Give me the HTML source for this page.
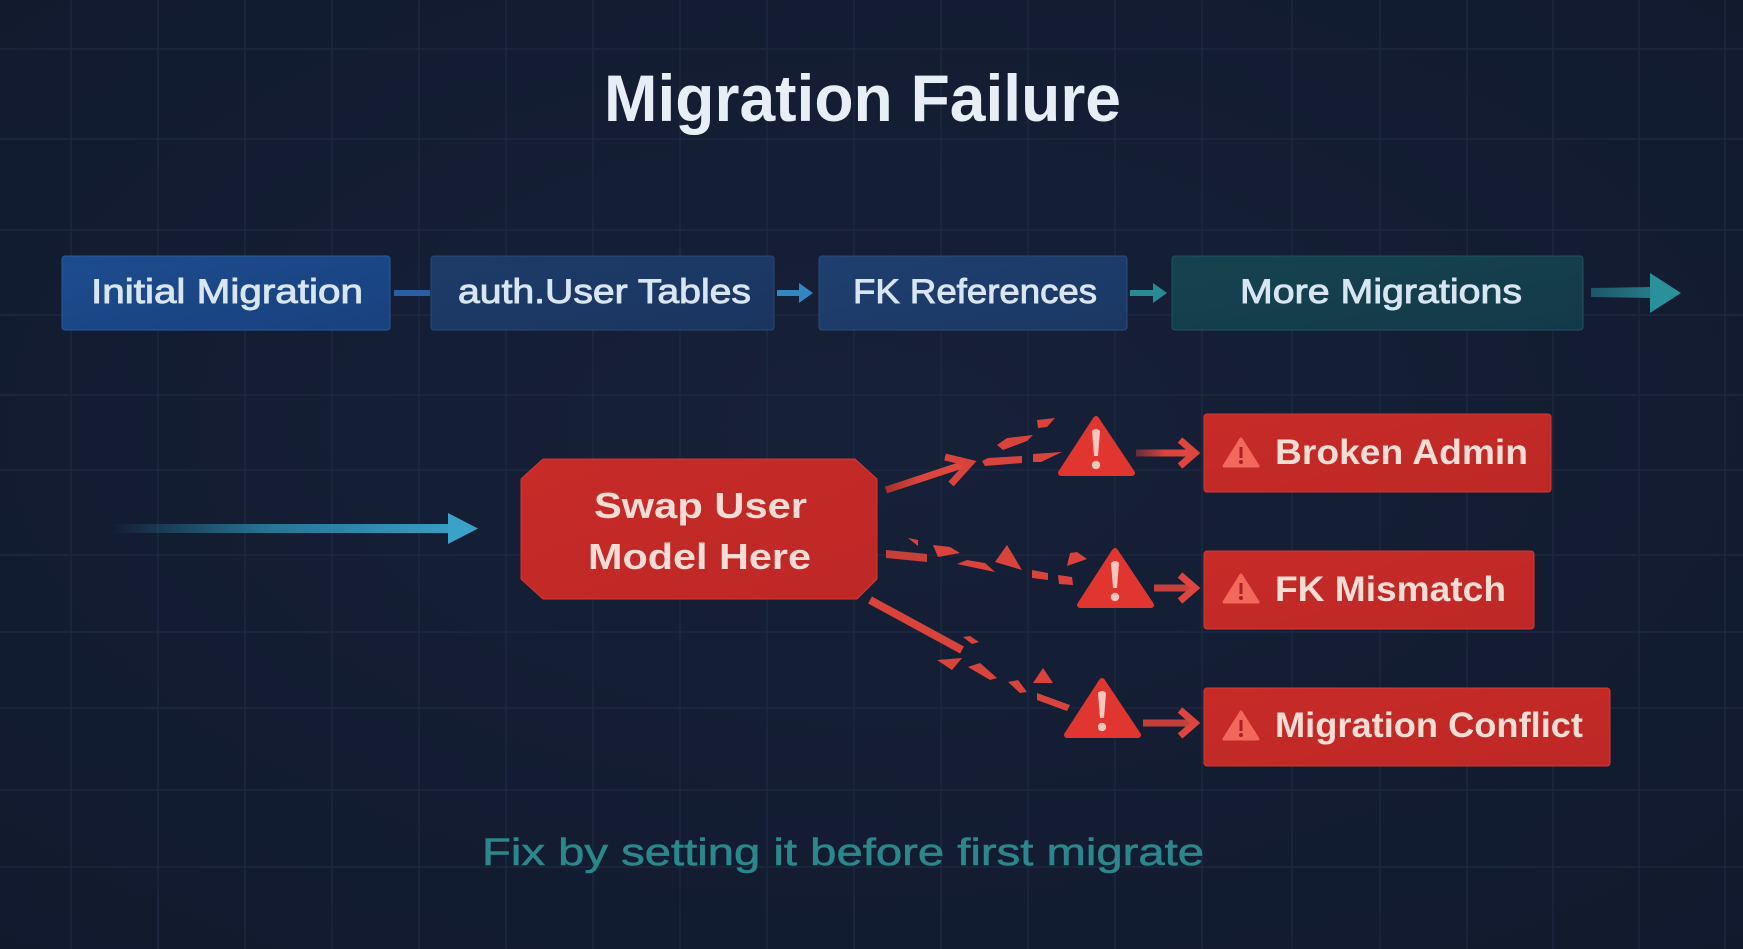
<!DOCTYPE html>
<html>
<head>
<meta charset="utf-8">
<style>
  html,body{margin:0;padding:0;background:#131c31;}
  body{width:1743px;height:949px;overflow:hidden;}
  svg{display:block;}
  text{font-family:"Liberation Sans","DejaVu Sans",sans-serif;}
</style>
</head>
<body>
<svg width="1743" height="949" viewBox="0 0 1743 949" xmlns="http://www.w3.org/2000/svg">
  <defs>
    <radialGradient id="bg" cx="50%" cy="45%" r="75%">
      <stop offset="0" stop-color="#162038"/>
      <stop offset="1" stop-color="#111a2d"/>
    </radialGradient>
    <linearGradient id="b1" x1="0" y1="0" x2="1" y2="1">
      <stop offset="0" stop-color="#1d4c8e"/>
      <stop offset="1" stop-color="#19417f"/>
    </linearGradient>
    <linearGradient id="b2" x1="0" y1="0" x2="1" y2="1">
      <stop offset="0" stop-color="#1e3b68"/>
      <stop offset="1" stop-color="#1a3560"/>
    </linearGradient>
    <linearGradient id="b3" x1="0" y1="0" x2="1" y2="1">
      <stop offset="0" stop-color="#1f3f70"/>
      <stop offset="1" stop-color="#1b3864"/>
    </linearGradient>
    <linearGradient id="b4" x1="0" y1="0" x2="1" y2="1">
      <stop offset="0" stop-color="#16434f"/>
      <stop offset="1" stop-color="#133a4a"/>
    </linearGradient>
    <linearGradient id="red" x1="0" y1="0" x2="1" y2="1">
      <stop offset="0" stop-color="#c72b28"/>
      <stop offset="1" stop-color="#bd2826"/>
    </linearGradient>
    <linearGradient id="leftArrow" x1="111" y1="0" x2="470" y2="0" gradientUnits="userSpaceOnUse">
      <stop offset="0" stop-color="#2f8fb0" stop-opacity="0"/>
      <stop offset="0.45" stop-color="#2b85a8" stop-opacity="0.85"/>
      <stop offset="1" stop-color="#3aa2c9"/>
    </linearGradient>
    <linearGradient id="bigArrow" x1="1591" y1="0" x2="1680" y2="0" gradientUnits="userSpaceOnUse">
      <stop offset="0" stop-color="#267c8c" stop-opacity="0.6"/>
      <stop offset="1" stop-color="#2a909c"/>
    </linearGradient>
    <linearGradient id="rfade1" x1="1134" y1="0" x2="1197" y2="0" gradientUnits="userSpaceOnUse">
      <stop offset="0" stop-color="#d9453d" stop-opacity="0.35"/>
      <stop offset="0.5" stop-color="#d9453d"/>
      <stop offset="1" stop-color="#de4a40"/>
    </linearGradient>
    <linearGradient id="rline" x1="0" y1="0" x2="1" y2="0">
      <stop offset="0" stop-color="#a8302c"/>
      <stop offset="0.4" stop-color="#d9453d"/>
      <stop offset="1" stop-color="#dd4a40"/>
    </linearGradient>
  </defs>

  <!-- background -->
  <rect width="1743" height="949" fill="url(#bg)"/>

  <!-- grid -->
  <g stroke="#1d2a43" stroke-width="1.5" opacity="0.9">
    <line x1="71" y1="0" x2="71" y2="949"/>
    <line x1="158" y1="0" x2="158" y2="949"/>
    <line x1="245" y1="0" x2="245" y2="949"/>
    <line x1="332" y1="0" x2="332" y2="949"/>
    <line x1="419" y1="0" x2="419" y2="949"/>
    <line x1="506" y1="0" x2="506" y2="949"/>
    <line x1="593" y1="0" x2="593" y2="949"/>
    <line x1="680" y1="0" x2="680" y2="949"/>
    <line x1="767" y1="0" x2="767" y2="949"/>
    <line x1="854" y1="0" x2="854" y2="949"/>
    <line x1="941" y1="0" x2="941" y2="949"/>
    <line x1="1028" y1="0" x2="1028" y2="949"/>
    <line x1="1115" y1="0" x2="1115" y2="949"/>
    <line x1="1202" y1="0" x2="1202" y2="949"/>
    <line x1="1292" y1="0" x2="1292" y2="949"/>
    <line x1="1380" y1="0" x2="1380" y2="949"/>
    <line x1="1467" y1="0" x2="1467" y2="949"/>
    <line x1="1553" y1="0" x2="1553" y2="949"/>
    <line x1="1639" y1="0" x2="1639" y2="949"/>
    <line x1="1725" y1="0" x2="1725" y2="949"/>
    <line x1="0" y1="49" x2="1743" y2="49"/>
    <line x1="0" y1="139" x2="1743" y2="139"/>
    <line x1="0" y1="230" x2="1743" y2="230"/>
    <line x1="0" y1="315" x2="1743" y2="315"/>
    <line x1="0" y1="395" x2="1743" y2="395"/>
    <line x1="0" y1="470" x2="1743" y2="470"/>
    <line x1="0" y1="555" x2="1743" y2="555"/>
    <line x1="0" y1="632" x2="1743" y2="632"/>
    <line x1="0" y1="708" x2="1743" y2="708"/>
    <line x1="0" y1="790" x2="1743" y2="790"/>
    <line x1="0" y1="867" x2="1743" y2="867"/>
  </g>

  <!-- title -->
  <text x="604" y="121" font-size="66" font-weight="bold" fill="#e8eef6" textLength="517" lengthAdjust="spacingAndGlyphs">Migration Failure</text>

  <!-- top chain boxes -->
  <rect x="62" y="256" width="328" height="74" rx="3" fill="url(#b1)" stroke="#2a5a9c" stroke-width="1"/>
  <rect x="431" y="256" width="343" height="74" rx="3" fill="url(#b2)" stroke="#284a78" stroke-width="1"/>
  <rect x="819" y="256" width="308" height="74" rx="3" fill="url(#b3)" stroke="#2a4c7e" stroke-width="1"/>
  <rect x="1172" y="256" width="411" height="74" rx="3" fill="url(#b4)" stroke="#1f5260" stroke-width="1"/>

  <g font-size="34" fill="#d8e5f3" stroke="#d8e5f3" stroke-width="0.9">
    <text x="91" y="303" textLength="272" lengthAdjust="spacingAndGlyphs">Initial Migration</text>
    <text x="458" y="303" textLength="293" lengthAdjust="spacingAndGlyphs">auth.User Tables</text>
    <text x="853" y="303" textLength="244" lengthAdjust="spacingAndGlyphs">FK References</text>
    <text x="1240" y="303" textLength="282" lengthAdjust="spacingAndGlyphs">More Migrations</text>
  </g>

  <!-- chain connectors -->
  <rect x="394" y="290" width="36" height="6" fill="#2a5fa3"/>
  <rect x="777" y="290" width="24" height="6" fill="#3486c0"/>
  <polygon points="799,283 813,293 799,303" fill="#3486c0"/>
  <rect x="1130" y="290" width="25" height="6" fill="#2a8a94"/>
  <polygon points="1153,283 1167,293 1153,303" fill="#2a8a94"/>
  <polygon points="1591,288 1652,287 1652,298 1591,297" fill="url(#bigArrow)"/>
  <polygon points="1650,273 1681,293 1650,313" fill="#2a909c"/>

  <!-- left incoming arrow -->
  <rect x="111" y="524" width="339" height="9" fill="url(#leftArrow)"/>
  <polygon points="448,513 478,528.5 448,544" fill="#3aa2c9"/>

  <!-- swap box -->
  <polygon points="543,459 855,459 877,479 877,579 857,599 543,599 521,579 521,479" fill="url(#red)" stroke="#d33a33" stroke-width="1"/>
  <g font-size="36" font-weight="bold" fill="#f7dcd5">
    <text x="594" y="518" textLength="213" lengthAdjust="spacingAndGlyphs">Swap User</text>
    <text x="588" y="569" textLength="223" lengthAdjust="spacingAndGlyphs">Model Here</text>
  </g>

  <!-- broken connectors -->
  <g fill="#d8443c">
    <!-- top -->
    <line x1="886" y1="490" x2="968" y2="463" stroke="url(#rline)" stroke-width="7"/>
    <polyline points="945,457 970,463 951,484" fill="none" stroke="#d8443c" stroke-width="7" stroke-linejoin="miter"/>
    <polygon points="982,461 988,458 1022,456 1022,463 985,466"/>
    <polygon points="1033,454 1062,452 1041,462 1033,462"/>
    <polygon points="997,445 1007,438 1033,435 1027,441 1003,450"/>
    <polygon points="1037,420 1055,418 1047,427 1038,428"/>
    <!-- middle -->
    <polygon points="886,550 927,554 927,562 886,558" fill="#c8403a"/>
    <polygon points="908,538 918,540 918,546"/>
    <polygon points="933,545 950,547 960,553 938,557"/>
    <polygon points="957,564 967,560 985,563 995,572"/>
    <polygon points="1007,545 1022,570 995,562"/>
    <polygon points="1032,570 1048,573 1048,580 1032,578"/>
    <polygon points="1058,575 1072,577 1073,585 1059,584"/>
    <polygon points="1070,553 1077,552 1087,559 1067,566"/>
    <!-- bottom -->
    <line x1="870" y1="600" x2="962" y2="650" stroke="#d8443c" stroke-width="8"/>
    <polygon points="963,637 970,636 979,642 972,644"/>
    <polygon points="937,660 962,658 952,670"/>
    <polygon points="968,667 980,663 997,678 990,680"/>
    <polygon points="1008,682 1018,680 1027,692 1020,693"/>
    <polygon points="1033,683 1043,668 1053,683"/>
    <polygon points="1037,693 1070,705 1067,711 1037,700"/>
  </g>

  <!-- big warning triangles -->
  <g fill="#e1352f" stroke="#e1352f" stroke-width="6" stroke-linejoin="round">
    <polygon points="1096,419 1132,473 1061,473"/>
    <polygon points="1115,551 1151,605 1080,605"/>
    <polygon points="1102,681 1138,735 1067,735"/>
  </g>
  <g fill="#f6c6bd">
    <path d="M1092,431 Q1096,427 1100,431 L1098,456 L1094,456 Z"/>
    <circle cx="1096" cy="465" r="4.2"/>
    <path d="M1111,563 Q1115,559 1119,563 L1117,588 L1113,588 Z"/>
    <circle cx="1115" cy="597" r="4.2"/>
    <path d="M1098,693 Q1102,689 1106,693 L1104,718 L1100,718 Z"/>
    <circle cx="1102" cy="727" r="4.2"/>
  </g>

  <!-- triangle -> box arrows -->
  <g stroke="url(#rfade1)" stroke-width="7" fill="none">
    <line x1="1136" y1="453" x2="1193" y2="453"/>
  </g>
  <line x1="1154" y1="588" x2="1193" y2="588" stroke="#d8443c" stroke-width="7" stroke-opacity="0.9"/>
  <line x1="1143" y1="723" x2="1193" y2="723" stroke="#d8443c" stroke-width="7" stroke-opacity="0.9"/>
  <g fill="none" stroke="#dc463e" stroke-width="7">
    <polyline points="1180,440 1195,453 1180,466"/>
    <polyline points="1180,575 1195,588 1180,601"/>
    <polyline points="1180,710 1195,723 1180,736"/>
  </g>

  <!-- red result boxes -->
  <rect x="1204" y="414" width="347" height="78" rx="3" fill="url(#red)" stroke="#d23a34" stroke-width="1"/>
  <rect x="1204" y="551" width="330" height="78" rx="3" fill="url(#red)" stroke="#d23a34" stroke-width="1"/>
  <rect x="1204" y="688" width="406" height="78" rx="3" fill="url(#red)" stroke="#d23a34" stroke-width="1"/>

  <!-- small warning icons -->
  <g fill="#f2685c" stroke="#f2685c" stroke-width="3" stroke-linejoin="round">
    <polygon points="1241,439 1258,466 1224,466"/>
    <polygon points="1241,575 1258,602 1224,602"/>
    <polygon points="1241,712 1258,739 1224,739"/>
  </g>
  <g fill="#a8201f">
    <rect x="1239.5" y="447" width="3" height="11"/>
    <circle cx="1241" cy="462" r="2"/>
    <rect x="1239.5" y="583" width="3" height="11"/>
    <circle cx="1241" cy="598" r="2"/>
    <rect x="1239.5" y="720" width="3" height="11"/>
    <circle cx="1241" cy="735" r="2"/>
  </g>

  <g font-size="35" font-weight="bold" fill="#f8ddd5">
    <text x="1275" y="464" textLength="253" lengthAdjust="spacingAndGlyphs">Broken Admin</text>
    <text x="1275" y="601" textLength="231" lengthAdjust="spacingAndGlyphs">FK Mismatch</text>
    <text x="1275" y="737" textLength="308" lengthAdjust="spacingAndGlyphs">Migration Conflict</text>
  </g>

  <!-- bottom note -->
  <text x="482" y="865" font-size="38" fill="#2c878b" stroke="#2c878b" stroke-width="0.6" textLength="722" lengthAdjust="spacingAndGlyphs">Fix by setting it before first migrate</text>
</svg>
</body>
</html>
